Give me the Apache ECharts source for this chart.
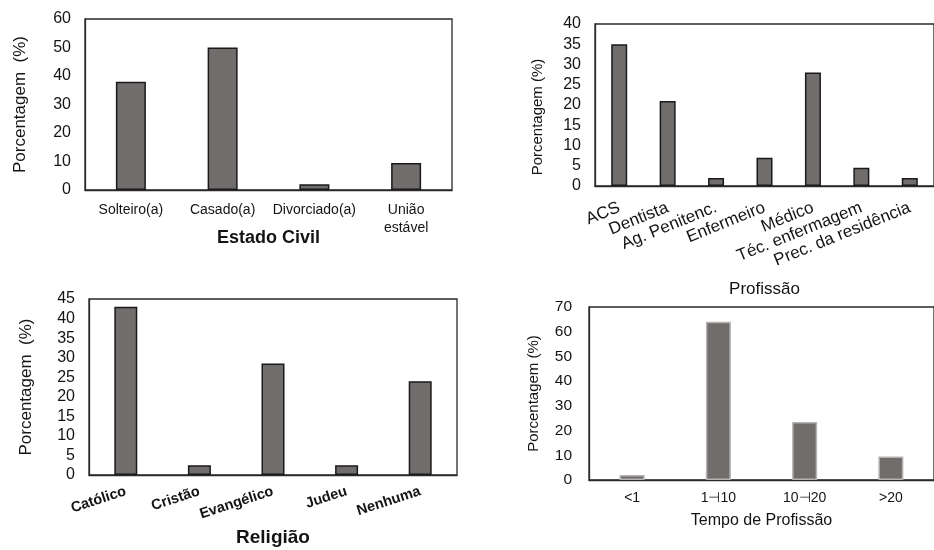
<!DOCTYPE html>
<html>
<head>
<meta charset="utf-8">
<script src="https://cdn.jsdelivr.net/npm/echarts@6/dist/echarts.min.js"></script>
<style>html,body{margin:0;padding:0;background:#fff}#c{width:934px;height:550px}</style>
</head>
<body>
<div id="c"></div>
<script>
// Data
var civilCats = ['Solteiro(a)', 'Casado(a)', 'Divorciado(a)', 'União\nestável'];
var civilVals = [38, 50, 2, 9.5];

var profCats = ['ACS', 'Dentista', 'Ag. Penitenc.', 'Enfermeiro', 'Médico', 'Téc. enfermagem', 'Prec. da residência'];
var profVals = [35, 21, 2, 7, 28, 4.5, 2];

var relCats = ['Católico', 'Cristão', 'Evangélico', 'Judeu', 'Nenhuma'];
var relVals = [43, 2.5, 28.5, 2.5, 24];

var tempoCats = ['<1', '1⊣10', '10⊣20', '>20'];
var tempoVals = [2, 64, 23.5, 9.5];

var FONT = '"Liberation Sans", Arial, sans-serif';
var TXT = '#141414';
var BAR = '#716d6c';

function grid(l, t, w, h) {
  return {left: l, top: t, width: w, height: h, show: true, borderColor: '#2a2a2a', borderWidth: 1.3, backgroundColor: 'transparent'};
}
function yAx(idx, max, interval, name, nameGap, nameSize, labelSize, labelMargin, namePad) {
  return {
    type: 'value', gridIndex: idx, min: 0, max: max, interval: interval,
    name: name, nameLocation: 'middle', nameGap: nameGap, nameMoveOverlap: false,
    nameTextStyle: {fontFamily: FONT, fontSize: nameSize, color: TXT, padding: namePad || 0},
    axisLine: {show: true, lineStyle: {color: '#2a2a2a', width: 1.3}},
    axisTick: {show: false}, splitLine: {show: false},
    axisLabel: {fontFamily: FONT, fontSize: labelSize, color: TXT, margin: labelMargin}
  };
}
function xAx(idx, cats, name, nameGap, nameStyle, labelStyle) {
  return {
    type: 'category', gridIndex: idx, data: cats,
    name: name, nameLocation: 'middle', nameGap: nameGap, nameMoveOverlap: false,
    nameTextStyle: Object.assign({fontFamily: FONT, color: TXT}, nameStyle),
    axisLine: {show: true, lineStyle: {color: '#2a2a2a', width: 1.3}},
    axisTick: {show: false}, splitLine: {show: false},
    axisLabel: Object.assign({fontFamily: FONT, color: TXT, interval: 0}, labelStyle)
  };
}
function bars(idx, vals, width, border) {
  return {
    type: 'bar', xAxisIndex: idx, yAxisIndex: idx, data: vals, barWidth: width,
    itemStyle: {color: BAR, borderColor: border, borderWidth: 1.5},
    silent: true, animation: false
  };
}

var chart = echarts.init(document.getElementById('c'), null, {renderer: 'canvas'});
chart.setOption({
  animation: false,
  backgroundColor: '#fff',
  grid: [
    grid(85, 19, 367, 171),
    grid(595, 24, 346, 162),
    grid(89, 299, 368, 176),
    grid(589, 307, 348, 173)
  ],
  xAxis: [
    xAx(0, civilCats, 'Estado Civil', 39, {fontSize: 18, fontWeight: 'bold'}, {fontSize: 14, margin: 11, lineHeight: 18}),
    xAx(1, profCats, 'Profissão', 95, {fontSize: 17}, {fontSize: 17, margin: 21, rotate: 22}),
    xAx(2, relCats, 'Religião', 53, {fontSize: 19, fontWeight: 'bold'}, {fontSize: 14.5, fontWeight: 'bold', margin: 16, rotate: 18}),
    xAx(3, tempoCats, 'Tempo de Profissão', 33, {fontSize: 16}, {fontSize: 14, margin: 11})
  ],
  yAxis: [
    yAx(0, 60, 10, 'Porcentagem  (%)', 56, 17, 16, 14),
    yAx(1, 40, 5, 'Porcentagem (%)', 50, 15, 16, 14, [0, 24, 0, 0]),
    yAx(2, 45, 5, 'Porcentagem  (%)', 54, 17, 16, 14),
    yAx(3, 70, 10, 'Porcentagem (%)', 48, 15, 15.5, 17)
  ],
  series: [
    bars(0, civilVals, 30, '#1a1a1a'),
    bars(1, profVals, 16, '#1a1a1a'),
    bars(2, relVals, 23, '#1a1a1a'),
    bars(3, tempoVals, 25, '#b5b2b1')
  ]
});
</script>
</body>
</html>
